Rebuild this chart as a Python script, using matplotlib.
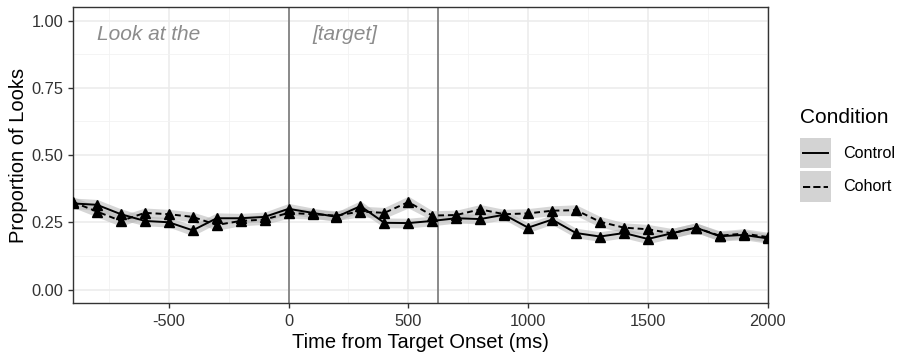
import matplotlib.pyplot as plt
from matplotlib.legend_handler import HandlerBase
from matplotlib.lines import Line2D
from matplotlib.patches import Rectangle

plt.rcParams['font.family'] = ['Liberation Sans', 'DejaVu Sans']
plt.rcParams['axes.unicode_minus'] = False

time_ms = [-900, -800, -700, -600, -500, -400, -300, -200, -100, 0,
           100, 200, 300, 400, 500, 600, 700, 800, 900, 1000,
           1100, 1200, 1300, 1400, 1500, 1600, 1700, 1800, 1900, 2000]
control = [0.32, 0.315, 0.28, 0.255, 0.25, 0.22, 0.265, 0.265, 0.27, 0.30,
           0.285, 0.27, 0.31, 0.248, 0.247, 0.255, 0.265, 0.262, 0.278, 0.23,
           0.26, 0.21, 0.197, 0.21, 0.188, 0.209, 0.23, 0.198, 0.203, 0.19]
cohort = [0.325, 0.29, 0.255, 0.285, 0.28, 0.27, 0.24, 0.255, 0.26, 0.285,
          0.28, 0.275, 0.29, 0.285, 0.325, 0.275, 0.277, 0.298, 0.28, 0.283,
          0.293, 0.295, 0.252, 0.23, 0.224, 0.209, 0.23, 0.2, 0.208, 0.195]
control_se = [0.02, 0.02, 0.02, 0.018, 0.018, 0.02, 0.02, 0.018, 0.018, 0.02,
              0.018, 0.018, 0.02, 0.018, 0.018, 0.018, 0.018, 0.018, 0.018, 0.018,
              0.018, 0.018, 0.018, 0.018, 0.018, 0.018, 0.018, 0.018, 0.018, 0.018]
cohort_se = [0.02, 0.02, 0.02, 0.018, 0.018, 0.018, 0.02, 0.018, 0.018, 0.02,
             0.018, 0.018, 0.02, 0.02, 0.022, 0.018, 0.018, 0.018, 0.018, 0.018,
             0.018, 0.02, 0.02, 0.018, 0.018, 0.018, 0.018, 0.018, 0.018, 0.018]
word_onsets = [0, 625]

DASH = (0, (3, 2))


class RibbonKey(HandlerBase):
    # grey ribbon square with the line drawn through its middle
    def create_artists(self, legend, orig_handle, xdescent, ydescent,
                       width, height, fontsize, trans):
        box = Rectangle((-xdescent, -ydescent), width, height,
                        facecolor='#d3d3d3', edgecolor='none', transform=trans)
        yc = -ydescent + height / 2
        line = Line2D([-xdescent + 2, -xdescent + width - 2], [yc, yc],
                      color='black', lw=1.4, ls=orig_handle.get_linestyle(),
                      transform=trans)
        return [box, line]


fig = plt.figure(figsize=(9.01, 3.56), dpi=100)
ax = fig.add_axes([0.081, 0.149, 0.771, 0.831])

for y, se, ls in [(control, control_se, '-'), (cohort, cohort_se, DASH)]:
    lo = [v - s for v, s in zip(y, se)]
    hi = [v + s for v, s in zip(y, se)]
    ax.fill_between(time_ms, lo, hi, color='#b5b5b5', alpha=0.55, lw=0, zorder=2)
    ax.plot(time_ms, y, color='black', lw=1.4, ls=ls, zorder=3)
    ax.plot(time_ms, y, ls='none', marker='^', ms=7.5, color='black', zorder=4)

for x in word_onsets:
    ax.axvline(x, color='#8a8a8a', lw=1.4, zorder=1.5)

ax.text(-800, 0.948, 'Look at the', color='#8c8c8c', style='italic', fontsize=15, va='center')
ax.text(100, 0.948, '[target]', color='#8c8c8c', style='italic', fontsize=15, va='center')

ax.set_xlim(-900, 2000)
ax.set_ylim(-0.05, 1.05)
ax.set_xticks([-500, 0, 500, 1000, 1500, 2000])
ax.set_xticks([-750, -250, 250, 750, 1250, 1750], minor=True)
ax.set_yticks([0, 0.25, 0.5, 0.75, 1.0])
ax.set_yticklabels(['0.00', '0.25', '0.50', '0.75', '1.00'])
ax.set_yticks([0.125, 0.375, 0.625, 0.875], minor=True)
ax.grid(which='major', color='#ebebeb', lw=1.1, zorder=0)
ax.grid(which='minor', color='#f2f2f2', lw=0.6, zorder=0)
ax.set_axisbelow(True)
ax.tick_params(which='major', length=3.5, width=1.0, color='#333333', labelsize=11.8,
               labelcolor='#333333')
ax.tick_params(axis='x', which='major', pad=4.5)
ax.tick_params(which='minor', length=0)
for s in ax.spines.values():
    s.set_color('#333333')
    s.set_linewidth(1.0)

ax.set_xlabel('Time from Target Onset (ms)', fontsize=14.5, labelpad=3)
ax.set_ylabel('Proportion of Looks', fontsize=14.5, labelpad=2.5)

handles = [Line2D([], [], ls='-'), Line2D([], [], ls=DASH)]
fig.text(0.888, 0.671, 'Condition', fontsize=15, va='center', ha='left')
fig.legend(handles, ['Control', 'Cohort'], handler_map={Line2D: RibbonKey()},
           loc='upper left', bbox_to_anchor=(0.888, 0.612), frameon=False,
           fontsize=11.6, handlelength=1.9, handleheight=2.5,
           handletextpad=0.75, labelspacing=0.2, borderaxespad=0, borderpad=0)

fig.savefig('out.png', dpi=100)
